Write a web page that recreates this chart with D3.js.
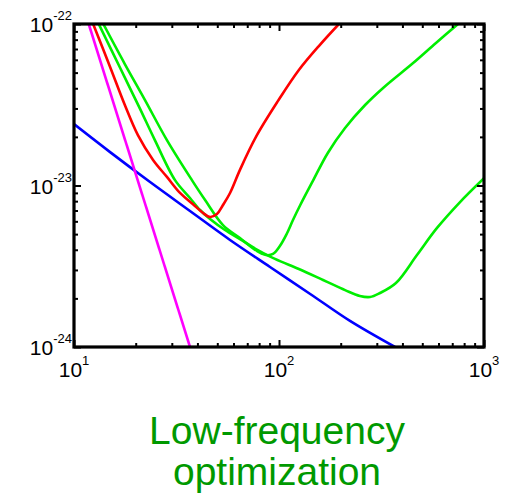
<!DOCTYPE html>
<html>
<head>
<meta charset="utf-8">
<style>
  body { margin: 0; background: #fff; }
  svg text { font-family: "Liberation Sans", Arial, Helvetica, sans-serif; }
</style>
</head>
<body>
<svg width="512" height="496"></svg>
<script src="https://cdnjs.cloudflare.com/ajax/libs/d3/7.8.5/d3.min.js"></script>
<script>

// frequency (Hz) / strain values
var redF = [12.4, 15.0, 17.7, 20.5, 24.3, 28.4, 32.9, 38.9, 42.6, 46.1, 49.8, 53.3, 57.7, 64.5, 77.2, 98.9, 125, 158, 196];
var redH = [1.00e-22, 5.42e-23, 3.15e-23, 2.05e-23, 1.44e-23, 1.13e-23, 8.99e-24, 7.47e-24, 6.76e-24, 6.38e-24, 6.66e-24, 7.57e-24, 8.99e-24, 1.25e-23, 2.00e-23, 3.34e-23, 5.19e-23, 7.41e-23, 1.00e-22];

var lowF = [13.2, 16.8, 21.0, 24.8, 31.1, 36.8, 41.2, 46.1, 54.5, 64.5, 77.2, 95.6, 125, 164, 210, 248, 278, 311, 372, 471, 590, 764, 1000];
var lowH = [1.00e-22, 5.34e-23, 2.98e-23, 1.91e-23, 1.08e-23, 8.37e-24, 7.05e-24, 6.20e-24, 5.30e-24, 4.66e-24, 4.04e-24, 3.51e-24, 3.04e-24, 2.60e-24, 2.25e-24, 2.07e-24, 2.04e-24, 2.16e-24, 2.49e-24, 3.71e-24, 5.46e-24, 7.90e-24, 1.11e-23];

var midF = [13.9, 17.7, 22.2, 28.4, 37.6, 43.6, 53.3, 64.5, 78.1, 86.4, 93.5, 101, 109, 117, 127, 147, 173, 210, 263, 322, 451, 583, 747];
var midH = [1.00e-22, 5.65e-23, 3.38e-23, 1.91e-23, 1.08e-23, 8.13e-24, 5.69e-24, 4.73e-24, 3.93e-24, 3.71e-24, 3.77e-24, 4.22e-24, 5.01e-24, 6.11e-24, 7.57e-24, 1.08e-23, 1.59e-23, 2.27e-23, 3.15e-23, 4.02e-23, 5.73e-23, 7.63e-23, 1.00e-22];

var blueF = [10, 15.0, 23.5, 36.8, 57.7, 90.4, 142, 222, 368];
var blueH = [2.40e-23, 1.61e-23, 1.05e-23, 6.95e-24, 4.60e-24, 3.13e-24, 2.13e-24, 1.45e-24, 1.00e-24];

var magF = [11.8, 36.8];
var magH = [1.00e-22, 1.00e-24];

var xDecades = [1, 2, 3];
var yDecades = [-22, -23, -24];
var titleLines = ["Low-frequency", "optimization"];

var svg = d3.select("svg");
var plotL = 74, plotR = 484, plotT = 24, plotB = 347;

var x = d3.scaleLog().domain([10, 1000]).range([plotL, plotR]);
var y = d3.scaleLog().domain([1e-24, 1e-22]).range([plotB, plotT]);

svg.append("clipPath").attr("id", "plotclip")
  .append("rect")
    .attr("x", plotL).attr("y", plotT)
    .attr("width", plotR - plotL).attr("height", plotB - plotT);

var line = d3.line()
    .x(function(d) { return x(d[0]); })
    .y(function(d) { return y(d[1]); })
    .curve(d3.curveCatmullRom.alpha(0.5));

function zip(f, h) { return f.map(function(v, i) { return [v, h[i]]; }); }

var series = [
  {pts: zip(blueF, blueH), color: "#0000ff"},
  {pts: zip(magF, magH), color: "#ff00ff"},
  {pts: zip(lowF, lowH), color: "#00ee00"},
  {pts: zip(midF, midH), color: "#00ee00"},
  {pts: zip(redF, redH), color: "#ff0000"}
];

var plot = svg.append("g").attr("clip-path", "url(#plotclip)");
plot.selectAll("path")
  .data(series)
  .enter().append("path")
    .attr("d", function(d) { return line(d.pts); })
    .attr("fill", "none")
    .attr("stroke", function(d) { return d.color; })
    .attr("stroke-width", 2.6)
    .attr("stroke-linejoin", "round");

// tick marks, all pointing inward
var xMinor = [], yMinor = [];
[10, 100].forEach(function(b) { for (var k = 2; k < 10; k++) xMinor.push(b * k); });
[1e-24, 1e-23].forEach(function(b) { for (var k = 2; k < 10; k++) yMinor.push(b * k); });
var xMajor = [10, 100, 1000], yMajor = [1e-24, 1e-23, 1e-22];

function styleAxis(g) {
  g.select(".domain").remove();
  g.selectAll(".tick line").attr("stroke", "#000").attr("stroke-width", 2);
}

svg.append("g").attr("transform", "translate(0," + plotB + ")")
  .call(d3.axisBottom(x).tickValues(xMinor).tickSize(-4).tickFormat("")).call(styleAxis);
svg.append("g").attr("transform", "translate(0," + plotB + ")")
  .call(d3.axisBottom(x).tickValues(xMajor).tickSize(-7).tickFormat("")).call(styleAxis);
svg.append("g").attr("transform", "translate(0," + plotT + ")")
  .call(d3.axisTop(x).tickValues(xMinor).tickSize(-4).tickFormat("")).call(styleAxis);
svg.append("g").attr("transform", "translate(0," + plotT + ")")
  .call(d3.axisTop(x).tickValues(xMajor).tickSize(-7).tickFormat("")).call(styleAxis);
svg.append("g").attr("transform", "translate(" + plotL + ",0)")
  .call(d3.axisLeft(y).tickValues(yMinor).tickSize(-4).tickFormat("")).call(styleAxis);
svg.append("g").attr("transform", "translate(" + plotL + ",0)")
  .call(d3.axisLeft(y).tickValues(yMajor).tickSize(-7).tickFormat("")).call(styleAxis);
svg.append("g").attr("transform", "translate(" + plotR + ",0)")
  .call(d3.axisRight(y).tickValues(yMinor).tickSize(-4).tickFormat("")).call(styleAxis);
svg.append("g").attr("transform", "translate(" + plotR + ",0)")
  .call(d3.axisRight(y).tickValues(yMajor).tickSize(-7).tickFormat("")).call(styleAxis);

// frame
svg.append("rect")
    .attr("x", plotL).attr("y", plotT)
    .attr("width", plotR - plotL).attr("height", plotB - plotT)
    .attr("fill", "none")
    .attr("stroke", "#000")
    .attr("stroke-width", 3.2);

// tick labels: 10 with superscript exponent
function powLabel(sel, exp) {
  sel.append("tspan").text("10").style("font-size", "21px");
  sel.append("tspan").text(exp).attr("dy", -12).style("font-size", "13px");
}

svg.selectAll(".xlab")
  .data(xDecades)
  .enter().append("text")
    .attr("class", "xlab")
    .attr("x", function(d) { return x(Math.pow(10, d)); })
    .attr("y", 377)
    .attr("text-anchor", "middle")
    .each(function(d) { powLabel(d3.select(this), d); });

svg.selectAll(".ylab")
  .data(yDecades)
  .enter().append("text")
    .attr("class", "ylab")
    .attr("x", 72)
    .attr("y", function(d) { return y(Math.pow(10, d)) + 8; })
    .attr("text-anchor", "end")
    .each(function(d) { powLabel(d3.select(this), d); });

// title under the chart
svg.selectAll(".title")
  .data(titleLines)
  .enter().append("text")
    .attr("class", "title")
    .attr("x", 277)
    .attr("y", function(d, i) { return 444 + i * 41; })
    .attr("text-anchor", "middle")
    .attr("fill", "#009900")
    .style("font-size", "39px")
    .text(function(d) { return d; });

</script>
</body>
</html>
